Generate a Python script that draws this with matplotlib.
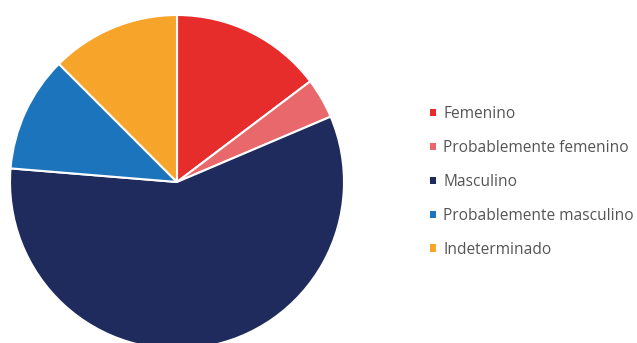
import matplotlib.pyplot as plt

labels = ["Femenino", "Probablemente femenino", "Masculino",
          "Probablemente masculino", "Indeterminado"]
values = [14.7, 3.9, 57.7, 11.2, 12.5]
colors = ["#E62D2B", "#E9686C", "#1E2B5C", "#1C74BC", "#F6A42A"]

plt.rcParams['font.family'] = ['Open Sans', 'DejaVu Sans']

fig = plt.figure(figsize=(6.37, 3.43), dpi=100)
W, H = 637, 343
cx, cy, r = 177, 182, 167
ax = fig.add_axes([(cx - r) / W, (H - cy - r) / H, 2 * r / W, 2 * r / H])
wedges, _ = ax.pie(values, colors=colors, startangle=90, counterclock=False,
                   radius=1, wedgeprops=dict(edgecolor="white", linewidth=1.5))
ax.set_xlim(-1, 1)
ax.set_ylim(-1, 1)
ax.set_aspect("equal")
ax.axis("off")

leg = fig.legend(wedges, labels, loc="center left", bbox_to_anchor=(416 / W, 1 - 182 / H),
                 frameon=False, fontsize=11.2, handlelength=0.36, handleheight=0.36,
                 handletextpad=0.5, labelspacing=1.15, labelcolor="#555555")
for h in leg.legend_handles:
    h.set_edgecolor("none")

fig.savefig("out.png", dpi=100)
